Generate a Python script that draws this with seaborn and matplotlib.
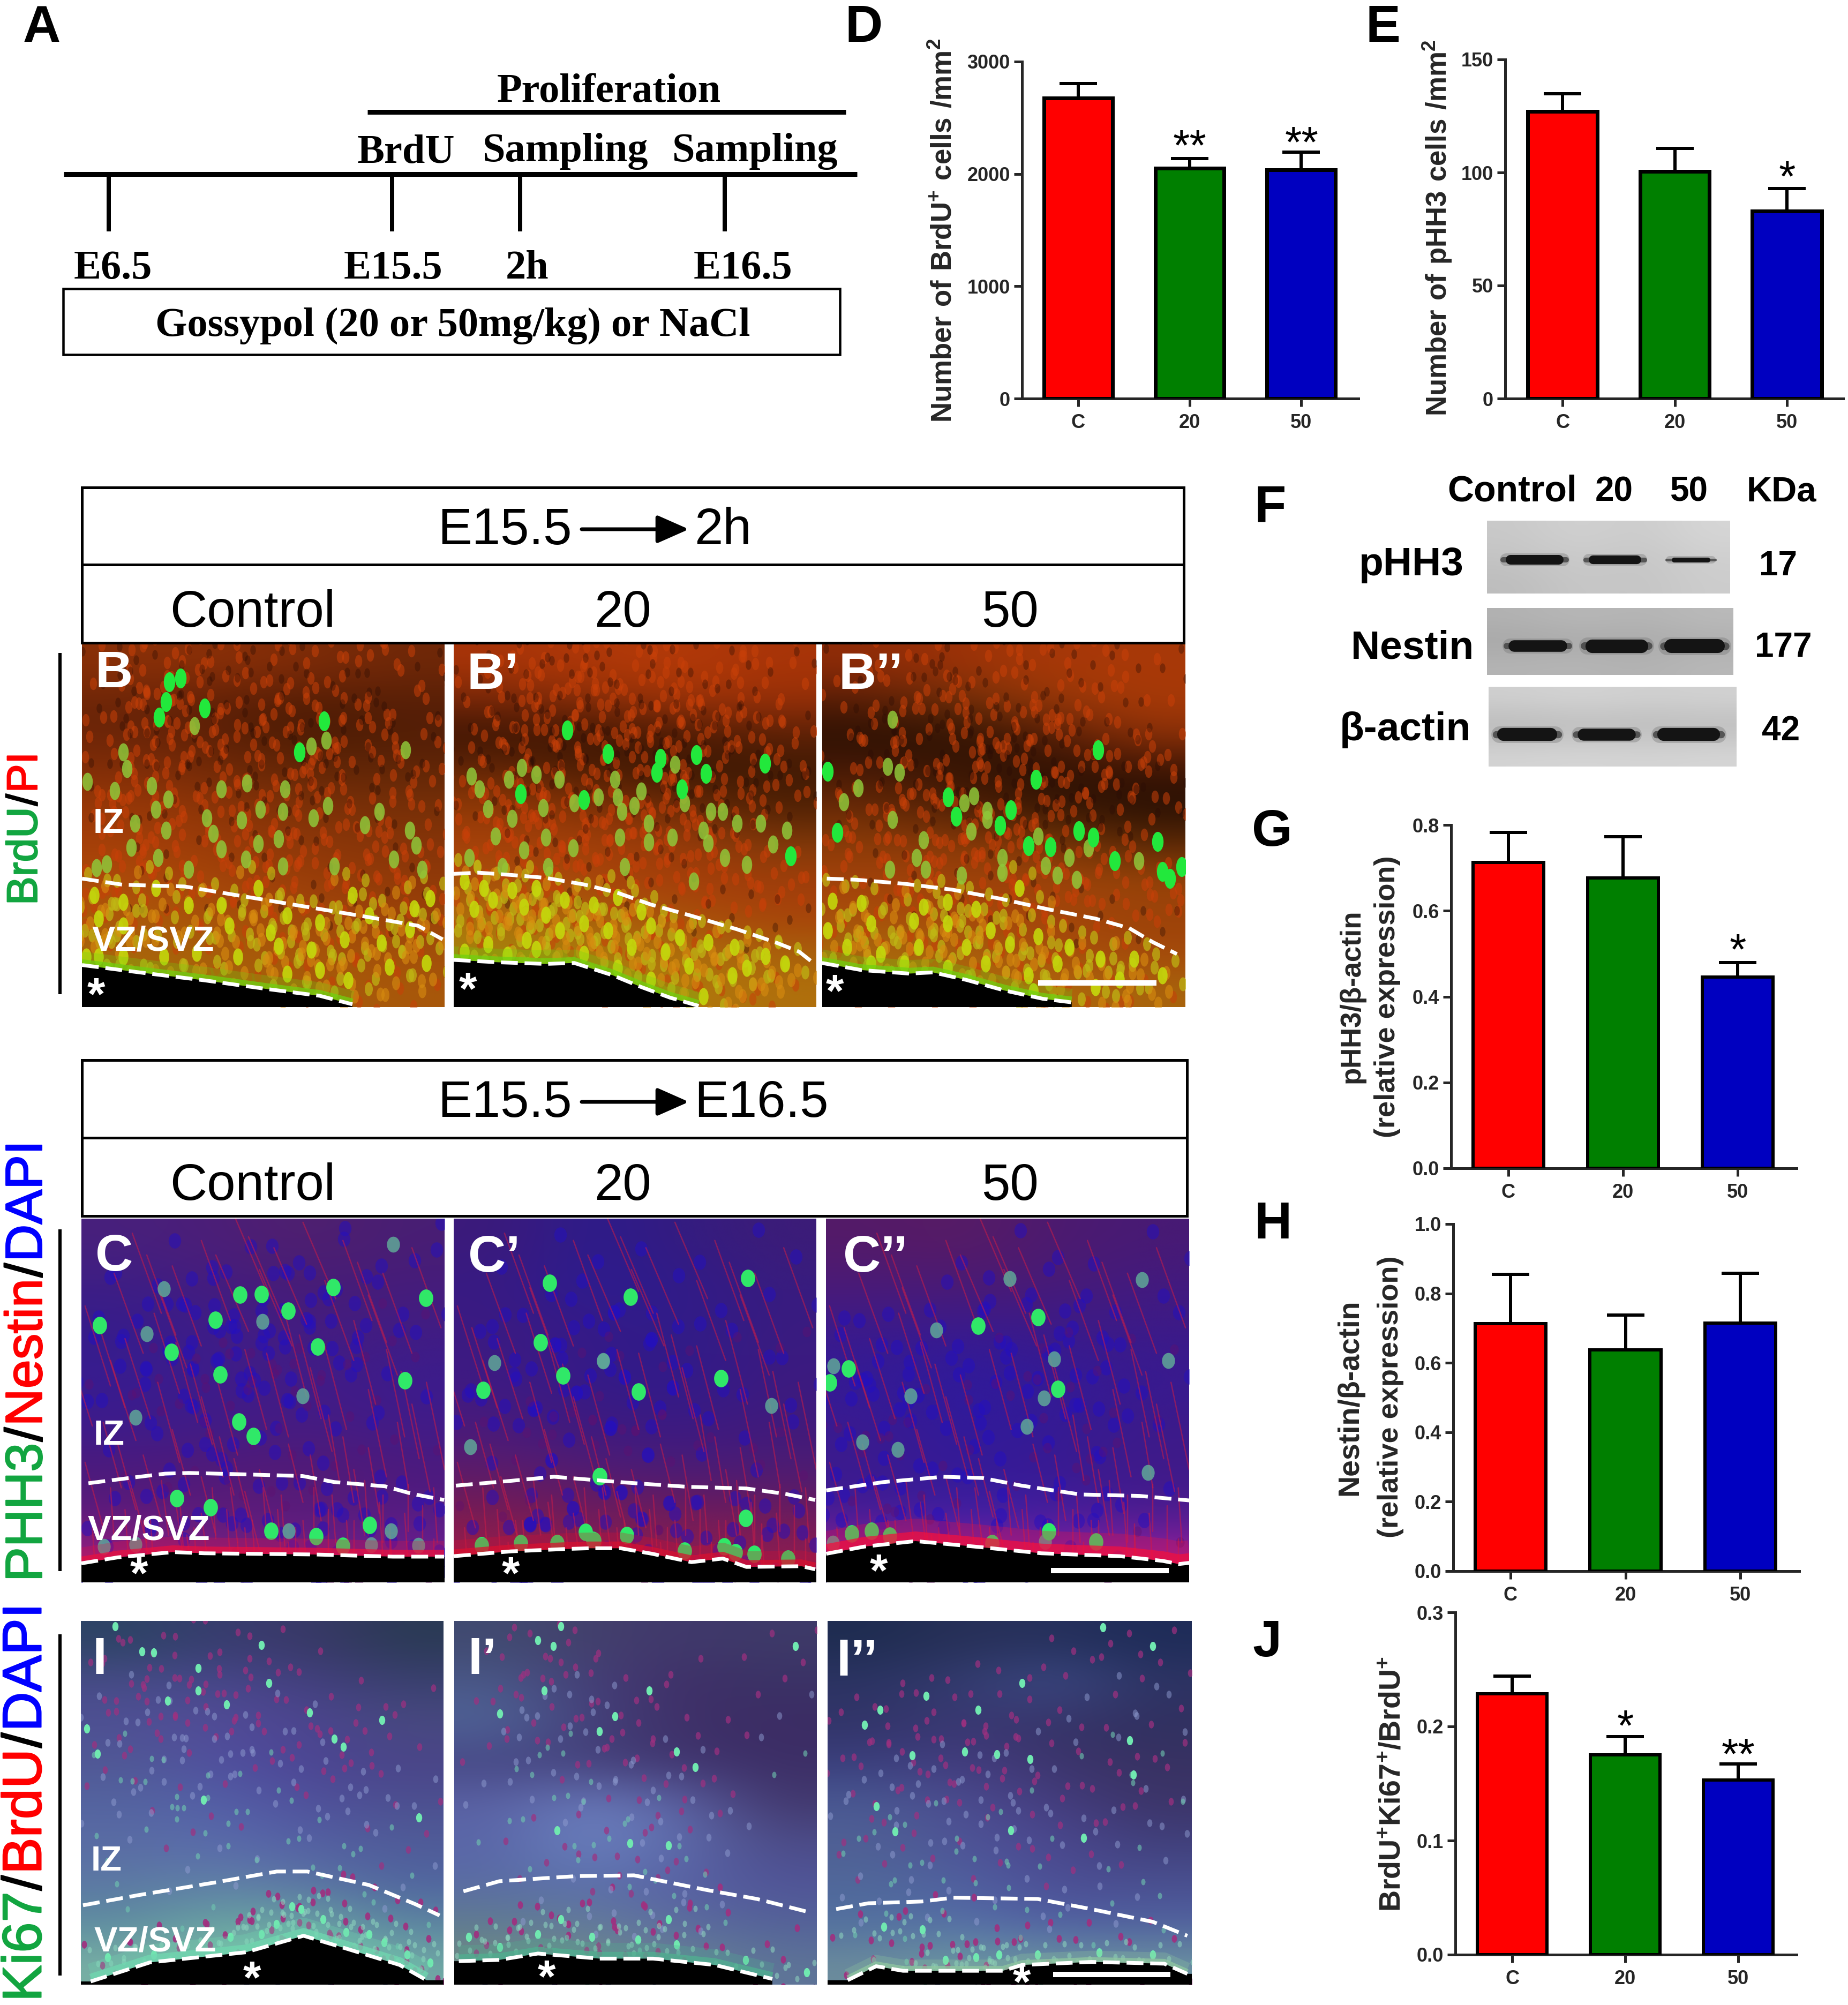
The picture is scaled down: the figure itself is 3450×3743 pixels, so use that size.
import numpy as np
import pandas as pd
import seaborn as sns
import matplotlib
matplotlib.use('Agg')
import matplotlib.pyplot as plt
import matplotlib.patheffects as pe
from matplotlib.colors import to_rgb
from matplotlib.markers import MarkerStyle
from matplotlib.patches import Polygon, Rectangle
from matplotlib.transforms import Affine2D

W, H = 3450, 3743

# bar chart values
groups = ['C', '20', '50']
bar_colors = ['#ff0000', '#007f00', '#0000c0']
brdu_mean = [2675, 2050, 2037]
brdu_top = [2805, 2137, 2192]
phh3_mean = [127, 100.4, 83]
phh3_top = [134.8, 110.6, 93]
phh3_wb_mean = [0.713, 0.677, 0.446]
phh3_wb_top = [0.782, 0.773, 0.479]
nestin_wb_mean = [0.713, 0.637, 0.715]
nestin_wb_top = [0.855, 0.737, 0.858]
ki67_mean = [0.2285, 0.175, 0.153]
ki67_top = [0.244, 0.191, 0.167]

# timeline in panel A
timeline_ticks = [203, 732, 971, 1353]
timeline_labels = ['E6.5', 'E15.5', '2h', 'E16.5']
timeline_label_x = [211, 734, 984, 1387]

# western blot, one row per protein
blot_names = ['pHH3', 'Nestin', 'β-actin']
blot_sizes = ['17', '177', '42']
blot_boxes = [(2776, 972, 3230, 1108), (2776, 1135, 3236, 1260), (2779, 1282, 3242, 1431)]
blot_greys = [[['#c9c9c9', '#d2d2d2', '#cbcbcb', '#d6d6d6'], ['#c4c4c4', '#cccccc', '#c6c6c6', '#d0d0d0'], ['#bdbdbd', '#c8c8c8', '#c4c4c4', '#cdcdcd']],
              [['#b2b2b2', '#b8b8b8', '#b4b4b4', '#bababa'], ['#a8a8a8', '#acacac', '#aaaaaa', '#b0b0b0'], ['#b4b4b4', '#b6b6b6', '#b2b2b2', '#b8b8b8']],
              [['#d0d0d0', '#d4d4d4', '#d0d0d0', '#d2d2d2'], ['#b8b8b8', '#bcbcbc', '#bababa', '#bcbcbc'], ['#d4d4d4', '#d6d6d6', '#d4d4d4', '#d6d6d6']]]
blot_bands = [[(2806, 2924, 20), (2960, 3070, 18), (3111, 3202, 10)],
              [(2813, 2929, 24), (2958, 3078, 28), (3106, 3221, 29)],
              [(2793, 2909, 27), (2942, 3056, 25), (3092, 3213, 27)]]
blot_band_y = [1045, 1206, 1371]

# microscope colour fields, top row to bottom row
field_b = [['#8a3008', '#8c3008', '#802c08', '#702808'],
           ['#642208', '#541c06', '#441804', '#501c06'],
           ['#7a2a08', '#6a2606', '#582206', '#5a2206'],
           ['#983808', '#8a3408', '#7c3008', '#763008'],
           ['#a84008', '#9c3c08', '#8e3808', '#883408'],
           ['#b0500a', '#a8480a', '#a0400a', '#943c08'],
           ['#a8600a', '#a85a0a', '#a8500a', '#a04a0a'],
           ['#a8700a', '#a8640a', '#a85c0a', '#a8580a']]
field_b1 = [['#a83408', '#b03808', '#b43a08', '#a83408'],
            ['#7a2808', '#8a2e08', '#a03408', '#983008'],
            ['#3a1404', '#3c1604', '#4a1a04', '#5a2006'],
            ['#6a2806', '#501e04', '#3a1804', '#401a04'],
            ['#903a06', '#843206', '#702c06', '#502004'],
            ['#a8400a', '#a4400a', '#983c0a', '#803a0a'],
            ['#a8500a', '#a8440a', '#a83c0a', '#a03e0a'],
            ['#b0700c', '#a8600a', '#a8500a', '#a8420a'],
            ['#a8800c', '#b0780c', '#b0700c', '#a8600c'],
            ['#80a00c', '#a8880c', '#b0780c', '#b0700c']]
field_b2 = [['#902c08', '#9c3208', '#a83808', '#a83808'],
            ['#5a1e06', '#703008', '#983808', '#a83a08'],
            ['#2a1004', '#2c1204', '#501c06', '#8c3008'],
            ['#4a1a06', '#3a1604', '#2a1004', '#3a1404'],
            ['#6a2a06', '#502006', '#3a1804', '#281004'],
            ['#8a3c08', '#8a3a08', '#7c3806', '#5a2806'],
            ['#a4400a', '#a0420a', '#a0440a', '#984408'],
            ['#a8500a', '#a8480a', '#a4440a', '#9c420a'],
            ['#a8680c', '#a8600c', '#a8500a', '#a4480a'],
            ['#a8780c', '#b0700c', '#b0680c', '#a8640c']]
field_c = [['#48207c', '#4c1e78', '#50206e', '#481e74'],
           ['#3c1e86', '#441c80', '#461c76', '#461c7c'],
           ['#361c8c', '#3e1c88', '#461c80', '#401c84'],
           ['#381c90', '#3e1c8a', '#421c86', '#3c1c8c'],
           ['#3c1c8c', '#401c88', '#461c82', '#401c8a'],
           ['#4c1a7c', '#501a78', '#541a74', '#4c1a7c'],
           ['#5a1a7a', '#5a1c7a', '#5a1c7a', '#541c84'],
           ['#a01e80', '#7c2088', '#701e88', '#702090']]
field_c1 = [['#3c1a7a', '#2c1c8c', '#341c80', '#3c1c78'],
            ['#381a84', '#2c1c90', '#301c8a', '#381c80'],
            ['#3c1a80', '#361a88', '#301c88', '#3a1c80'],
            ['#3e1a84', '#341a88', '#301a8c', '#3c1a80'],
            ['#481a7c', '#3c1a80', '#3a1a84', '#401a7c'],
            ['#5a1c6c', '#501c74', '#481c78', '#4c1c74'],
            ['#781c50', '#6c1c5c', '#701c58', '#6c1c5c'],
            ['#a01c4c', '#901c50', '#901c50', '#901c50']]
field_c2 = [['#541a68', '#581c64', '#4c1a70', '#481a74'],
            ['#4a1a78', '#4a1a74', '#481a78', '#421a80'],
            ['#3a1a8c', '#381a90', '#3a1a8a', '#3c1a88'],
            ['#341a96', '#2e1a9c', '#341a96', '#381a90'],
            ['#3a1a90', '#301a9c', '#341a96', '#3c1a8a'],
            ['#3c1a8c', '#341a98', '#381a92', '#401a88'],
            ['#401c98', '#3a20a4', '#401ea0', '#481c90'],
            ['#a0208c', '#9020a0', '#9020a0', '#a0209a']]
field_i = [['#2c4464', '#383c70', '#3a3868', '#2a3a54'],
           ['#484c88', '#48488c', '#443f80', '#3a4070'],
           ['#4e5094', '#534c98', '#4c4490', '#484a80'],
           ['#505894', '#5050a0', '#4c4494', '#4a4488'],
           ['#5464a0', '#5460a8', '#50509c', '#4c5090'],
           ['#5a6ca4', '#5a6cac', '#5460a4', '#505c98'],
           ['#5c78a4', '#6080a8', '#5c74a4', '#5064a0'],
           ['#5e8ca0', '#68a4a0', '#68a4a0', '#5c84a0'],
           ['#78b0a4', '#80c0a8', '#80c8b0', '#70a8a4']]
field_i1 = [['#404a70', '#44406c', '#40386c', '#3e3a68'],
            ['#4a5888', '#443e78', '#402f68', '#3a3266'],
            ['#506498', '#44407a', '#3e3068', '#3c2c64'],
            ['#464684', '#44407a', '#40346e', '#3c2e66'],
            ['#5a62a4', '#6a7cbc', '#5c62a4', '#42386e'],
            ['#5a66a8', '#6c84c0', '#5e6cac', '#4c4c88'],
            ['#5a6ca4', '#5c70ac', '#5860a4', '#505498'],
            ['#607c90', '#647c9c', '#5c6ca0', '#546298'],
            ['#708c84', '#708c88', '#688494', '#5e7498']]
field_i2 = [['#1e2c50', '#283058', '#26305c', '#1e2c58'],
            ['#2c3464', '#343c70', '#3e4c88', '#2e3464'],
            ['#323468', '#3a3874', '#363468', '#303060'],
            ['#3a3e7c', '#443c80', '#3c346c', '#383262'],
            ['#4a5a94', '#4c4c90', '#443c80', '#3c3468'],
            ['#506094', '#4e5498', '#4c4890', '#40407c'],
            ['#50689a', '#5060a0', '#4c4c94', '#4a5090'],
            ['#5270a0', '#5670a8', '#5060a4', '#5060a0'],
            ['#6c8c9c', '#6c9ca0', '#6c94a0', '#6c94a0']]

b_upper = [(200, 1192), (300, 1210), (450, 1215), (600, 1245), (750, 1275), (900, 1305), (1020, 1330), (1080, 1370)]
b_lower = [(200, 1445), (350, 1468), (500, 1490), (650, 1515), (780, 1535), (860, 1560)]
b_cells = [(413, 617), (440, 605), (405, 675), (499, 693), (388, 720), (791, 730), (730, 822)]
b_dim = [(475, 745), (796, 787), (760, 805), (990, 815), (300, 822), (213, 908), (370, 920), (280, 935), (310, 870),
         (603, 912), (540, 930), (695, 930), (800, 978), (690, 995), (380, 990), (410, 960), (330, 1030), (405, 1050),
         (505, 1015), (590, 1020), (635, 990), (765, 1015), (890, 1035), (925, 995), (1000, 1050), (1015, 1095),
         (960, 1135), (815, 1155), (690, 1155), (600, 1135), (520, 1060), (540, 1105), (680, 1075), (630, 1090),
         (460, 1165), (385, 1130), (320, 1100), (260, 1150), (235, 1160), (1030, 1165)]
b_vz = [(230, 1240), (300, 1260), (380, 1220), (460, 1270), (540, 1270), (630, 1220), (700, 1300), (780, 1320), (860, 1240),
        (240, 1310), (300, 1330), (560, 1330), (660, 1350), (760, 1400), (840, 1370), (930, 1380), (1000, 1340), (1040, 1440),
        (950, 1450), (850, 1490), (680, 1390), (580, 1420), (480, 1410), (400, 1420), (240, 1420), (210, 1420), (300, 1420),
        (1010, 1280), (1050, 1250), (900, 1300), (780, 1460), (700, 1470)]

b1_upper = [(8, 980), (60, 975), (130, 985), (200, 997), (280, 1025), (350, 1060), (420, 1110), (500, 1155), (600, 1215), (680, 1270), (730, 1310), (755, 1350)]
b1_lower = [(8, 1345), (100, 1355), (200, 1362), (260, 1358), (340, 1410), (400, 1460), (460, 1505), (520, 1540)]
b1_cells = [(245, 370), (330, 470), (440, 490), (515, 475), (658, 512), (432, 550), (535, 555), (148, 640), (485, 620), (280, 665), (712, 905)]
b1_dim = [(470, 515), (345, 580), (150, 530), (180, 560), (228, 580), (45, 565), (123, 580), (62, 620), (400, 630), (350, 655),
          (310, 655), (260, 680), (195, 700), (80, 705), (130, 745), (360, 715), (490, 680), (570, 715), (545, 715), (385, 690),
          (415, 765), (600, 765), (650, 765), (705, 795), (95, 820), (200, 825), (355, 825), (465, 825), (530, 795), (540, 850),
          (675, 855), (155, 880), (258, 870), (415, 845), (575, 910), (620, 940), (40, 910), (110, 950), (205, 950), (365, 950), (510, 1010)]
b1_vz = [(30, 1010), (70, 1040), (130, 1050), (180, 1040), (90, 1090), (155, 1120), (240, 1090), (50, 1130), (200, 1155), (300, 1110),
         (350, 1080), (400, 1140), (280, 1190), (230, 1220), (330, 1220), (160, 1260), (80, 1280), (30, 1310), (120, 1325), (180, 1300),
         (280, 1320), (420, 1200), (480, 1250), (540, 1270), (595, 1290), (660, 1330), (590, 1410), (450, 1310), (380, 1290), (500, 1370),
         (620, 1380), (700, 1360), (530, 1500), (420, 1430), (350, 1380)]

b2_upper = [(788, 1000), (850, 1005), (950, 1022), (1050, 1047), (1150, 1085), (1250, 1130), (1350, 1170), (1420, 1210), (1470, 1270), (1520, 1320)]
b2_lower = [(778, 1358), (860, 1388), (960, 1403), (1010, 1398), (1080, 1430), (1160, 1475), (1240, 1510), (1300, 1525)]
b2_cells = [(1355, 455), (790, 545), (1225, 580), (1042, 655), (1173, 708), (1058, 735), (1150, 775), (810, 805), (1315, 798),
            (1345, 825), (1210, 860), (1255, 865), (1480, 842), (1390, 925), (1490, 970), (1530, 950), (1505, 1000)]
b2_dim = [(925, 325), (915, 525), (940, 550), (853, 615), (1095, 650), (823, 675), (1075, 680), (1123, 712), (925, 750), (1123, 750),
          (1090, 800), (1230, 820), (1335, 870), (1155, 910), (990, 835), (975, 910), (1440, 925), (1245, 945), (1295, 910), (920, 960),
          (995, 960), (1270, 985), (1310, 1005), (1155, 975), (1070, 985)]
b2_vz = [(860, 1105), (800, 1095), (990, 1120), (1040, 1100), (1100, 1130), (1190, 1040), (1230, 1245), (1295, 1290), (970, 1180), (1040, 1190),
         (880, 1190), (790, 1220), (830, 1290), (900, 1320), (980, 1290), (1080, 1290), (1170, 1280), (1130, 1220), (1270, 1360), (1360, 1340),
         (1430, 1340), (1490, 1410), (1210, 1410), (1120, 1360), (1040, 1380), (950, 1360), (880, 1360), (1350, 1460), (1220, 1480), (1400, 1430)]

c_upper = [(225, 1140), (320, 1120), (420, 1100), (480, 1097), (600, 1102), (770, 1110), (850, 1135), (980, 1153), (1050, 1185), (1130, 1210)]
c_lower = [(207, 1475), (300, 1450), (440, 1428), (520, 1433), (800, 1438), (1000, 1447), (1130, 1447)]
c_cells = [(253, 480), (548, 458), (733, 418), (665, 350), (610, 352), (848, 320), (1083, 365), (808, 568), (560, 685), (1030, 710),
           (608, 882), (645, 943), (436, 592), (450, 1203), (535, 1240), (690, 1340), (804, 1362), (940, 1315), (873, 1403)]
c_dim = [(1000, 140), (417, 328), (373, 515), (668, 463), (345, 865), (770, 775), (735, 1340), (945, 1398), (265, 1405), (345, 1395), (1065, 1400), (995, 1340)]

c1_upper_a = [(1160, 1150), (1300, 1130), (1410, 1113), (1500, 1125)]
c1_upper_b = [(100, 1138), (250, 1155), (400, 1162), (500, 1185), (575, 1210)]
c1_lower_a = [(1155, 1445), (1300, 1425), (1440, 1415)]
c1_lower_b = [(0, 1412), (80, 1412), (160, 1435), (260, 1470), (340, 1455), (400, 1490), (540, 1487), (575, 1500)]
c1_cells_a = [(1398, 303), (1375, 552), (1433, 690), (1230, 750), (1490, 1343), (1325, 1390), (1417, 1390), (1225, 1400), (1512, 1380), (1525, 1110)]
c1_dim_a = [(1258, 637), (1535, 628), (1197, 988)]
c1_cells_b = [(403, 283), (105, 360), (335, 700), (126, 757), (27, 1110), (95, 1358), (10, 1378), (243, 1423), (343, 1405), (372, 1430), (420, 1435), (505, 1455), (398, 1285)]
c1_dim_b = [(35, 630), (463, 815)]

c2_upper = [(603, 1170), (750, 1135), (900, 1113), (1000, 1118), (1100, 1150), (1250, 1187), (1400, 1193), (1527, 1212)]
c2_lower = [(603, 1435), (700, 1405), (830, 1382), (1000, 1408), (1150, 1433), (1350, 1445), (1460, 1465), (1500, 1478), (1527, 1473)]
c2_cells = [(1142, 445), (990, 482), (660, 660), (612, 720), (1192, 745), (718, 1340), (668, 1350), (1170, 1342), (1290, 1385), (1025, 1390), (765, 1360)]
c2_dim = [(1070, 285), (1407, 290), (883, 500), (622, 650), (818, 775), (1157, 785), (1183, 620), (1473, 627), (695, 968), (785, 1000), (1113, 903), (1422, 1095), (620, 1390), (1160, 1385)]

# a few of the red Nestin fibres, as fractions of the panel (x0, y0, x1, y1)
fibres = [(0.05, 0.30, 0.12, 0.52), (0.18, 0.10, 0.26, 0.32), (0.30, 0.40, 0.36, 0.62), (0.46, 0.05, 0.55, 0.26), (0.60, 0.32, 0.66, 0.55),
          (0.76, 0.12, 0.84, 0.34), (0.88, 0.42, 0.93, 0.66), (0.10, 0.62, 0.15, 0.80), (0.42, 0.66, 0.46, 0.82), (0.72, 0.60, 0.75, 0.78),
          (0.12, 0.80, 0.13, 0.94), (0.26, 0.78, 0.28, 0.93), (0.40, 0.80, 0.41, 0.94), (0.54, 0.80, 0.55, 0.93), (0.68, 0.80, 0.68, 0.93), (0.82, 0.78, 0.83, 0.93), (0.94, 0.79, 0.94, 0.92)]
fibre_shifts = [(0, 0), (0.07, 0.03), (-0.09, 0.05), (0.15, -0.04), (-0.04, -0.06), (0.03, 0.09)]

i_upper = [(108, 1175), (180, 1135), (280, 1085), (360, 1042), (400, 1042), (480, 1095), (540, 1170), (572, 1215)]
i_lower = [(118, 1475), (195, 1400), (320, 1360), (395, 1295), (450, 1345), (520, 1410), (555, 1470)]
i_cells = [(150, 75), (185, 175), (200, 180), (258, 240), (258, 330), (295, 385), (403, 415), (497, 445), (435, 520), (447, 550), (127, 578), (218, 370),
           (113, 480), (340, 150), (350, 300), (545, 830), (265, 760), (380, 1180), (420, 1230), (360, 1250), (450, 1280), (500, 1320), (530, 1370), (392, 1190),
           (300, 1300), (340, 1290), (480, 1290), (560, 1400), (140, 1380), (200, 1370)]
i1_upper = [(603, 1120), (650, 1080), (750, 1060), (825, 1057), (920, 1115), (985, 1150), (1050, 1200)]
i1_lower = [(597, 1395), (650, 1390), (700, 1365), (780, 1385), (850, 1385), (930, 1410), (1005, 1465)]
i1_cells = [(730, 75), (700, 130), (720, 155), (650, 420), (708, 330), (845, 330), (800, 430), (780, 490), (725, 880), (820, 930), (870, 940), (905, 630),
            (1035, 155), (880, 570), (770, 1300), (700, 1290), (830, 1310), (880, 1330), (650, 1340), (970, 1390), (1050, 1440), (610, 1300), (730, 1230), (870, 1230)]
i2_upper = [(1088, 1190), (1130, 1167), (1200, 1160), (1240, 1145), (1350, 1150), (1420, 1190), (1500, 1240), (1545, 1295)]
i2_lower = [(1103, 1470), (1140, 1415), (1175, 1433), (1305, 1433), (1330, 1410), (1420, 1398), (1515, 1405), (1545, 1445)]
i2_cells = [(1187, 585), (1145, 405), (1273, 405), (1297, 580), (1315, 880), (1475, 660), (1330, 300), (1205, 350), (1125, 465), (1255, 570), (1470, 525), (1410, 910),
            (1140, 785), (1165, 885), (1340, 600), (1435, 80), (1500, 155), (1150, 1260), (1200, 1270), (1300, 1370), (1350, 1370), (1430, 1360), (1500, 1370), (1270, 1380), (1230, 1390)]

# speckle layers: colour, size in px, alpha, shifts in px of the cell lists
vz_speckle = [('#c0b814', 20, 0.7, [(24, -28), (-26, 22), (38, 16), (-12, -40)]),
              ('#d88c10', 20, 0.6, [(12, 30), (-34, -30), (60, 26), (-8, 52)])]
red_speckle = [('#c84008', 18, 0.55, [(30, -120), (-40, -200), (60, -300), (-70, -60), (90, -420), (20, 40), (-24, 80), (110, -170)]),
               ('#2a0c04', 14, 0.35, [(-60, -260), (44, -360), (80, -90)])]
blue_speckle = [('#2410c0', 26, 0.5, [(40, 30), (-50, 60), (90, -40), (-90, -30), (20, -90), (130, 50), (-130, 90)]),
                ('#601070', 18, 0.4, [(-20, 110), (60, 130), (110, 100)])]
magenta_speckle = [('#a03080', 12, 0.7, [(14, 30), (-20, 60), (40, -30), (-44, -24), (70, 50), (-70, 90), (96, -60), (-96, 20)]),
                   ('#8f9cd0', 12, 0.5, [(30, 90), (-30, 130), (60, 160), (-64, 170), (100, 110)]),
                   ('#70c8b0', 10, 0.6, [(18, 200), (-40, 240), (56, 290)])]
i_vz_speckle = [('#90d8c0', 10, 0.55, [(14, -18), (-18, 12), (30, 8), (-34, -14), (50, -20), (-56, 6), (74, 14), (-80, 16)])]

# crop origin and scale for each list above
crop_b = (0, 880, 1.307, 1.568)
crop_b12 = (840, 1200, 1.12, 2.272)
crop_c = (0, 2260, 1.363, 2.24)
crop_c2 = (1100, 2260, 1.363, 2.24)
crop_i = (0, 3000, 0.697, 2.11)

sns.set_theme(style='ticks')
plt.rcParams['font.family'] = ['Liberation Sans', 'DejaVu Sans']
plt.rcParams['mathtext.fontset'] = 'custom'
plt.rcParams['mathtext.bf'] = 'Liberation Sans:bold'
plt.rcParams['mathtext.rm'] = 'Liberation Sans'
plt.rcParams['mathtext.default'] = 'regular'


def pt(pixels):
    return pixels * 0.72


def unzoom(points, box):
    x0, y0, fx, fy = box
    return [(x0 + p[0] / fx, y0 + p[1] / fy) for p in points]


fig = plt.figure(figsize=(W / 100, H / 100), dpi=100, facecolor='white')
page = fig.add_axes([0, 0, 1, 1])
page.set_axis_off()


def label(x, y, s, size, weight='bold', color='black', family=None, ha='center', **kw):
    if family:
        kw['family'] = family
    return page.text(x, y, s, fontsize=size, fontweight=weight, color=color, ha=ha, va='baseline', **kw)


def field(box, colours, upper, lower, cells=(), dim=(), vz=(), glow=None, glow_w=20, cell_c='#22e83c', dim_c='#8fc83a',
          vz_c='#c4d80c', size=20, fibre=False, shape=(0.75, 1.3), speckle=(), speck_vz=()):
    x0, y0, x1, y1 = box
    grid = np.array([[to_rgb(c) for c in row] for row in colours])
    page.imshow(grid, extent=(x0, x1, y1, y0), origin='upper', aspect='auto', interpolation='bicubic', zorder=1)
    clip = Rectangle((x0, y0), x1 - x0, y1 - y0, transform=page.transData)
    marker = MarkerStyle('o', transform=Affine2D().scale(*shape))

    def dots(pts, col, s, a, z):
        if len(pts):
            arr = np.array(pts)
            sc = page.scatter(arr[:, 0], arr[:, 1], s=pt(s) ** 2, c=col, alpha=a, linewidths=0, zorder=z, marker=marker)
            sc.set_clip_path(clip)

    everyone = list(cells) + list(dim) + list(vz)
    for col, s, a, shifts in speckle:
        for dx, dy in shifts:
            dots([(p[0] + dx, p[1] + dy) for p in everyone], col, s, a, 1.2)
    if fibre:
        for sx, sy in fibre_shifts:
            for f in fibres:
                line, = page.plot([x0 + (f[0] + sx) * (x1 - x0), x0 + (f[2] + sx) * (x1 - x0)],
                                  [y0 + (f[1] + sy) * (y1 - y0), y0 + (f[3] + sy) * (y1 - y0)],
                                  color='#c81c48', lw=pt(2.5), alpha=0.55, zorder=1.5)
                line.set_clip_path(clip)
    for col, s, a, shifts in speck_vz:
        for dx, dy in shifts:
            dots([(p[0] + dx, p[1] + dy) for p in vz], col, s, a, 1.8)
    dots(vz, vz_c, size * 0.95, 0.9, 2)
    dots(dim, dim_c, size, 0.85, 2)
    dots(cells, cell_c, size * 1.1, 1.0, 2.1)
    lo = np.array(lower)
    if glow:
        for width, alpha, lift in [(glow_w * 2.4, 0.28, 0.9), (glow_w, 0.75, 0.4)]:
            line, = page.plot(lo[:, 0], lo[:, 1] - glow_w * lift, color=glow, lw=pt(width), alpha=alpha, zorder=2.2, solid_capstyle='butt')
            line.set_clip_path(clip)
    page.add_patch(Polygon([(x0, lo[0, 1])] + [tuple(p) for p in lo] + [(x1, lo[-1, 1]) if lo[-1, 0] > x1 - 60 else (lo[-1, 0], y1), (x1 if lo[-1, 0] > x1 - 60 else lo[-1, 0], y1), (x0, y1)],
                           closed=True, fc='black', ec='none', zorder=3))
    for curve in (upper, lower):
        c = np.array(curve)
        line, = page.plot(c[:, 0], c[:, 1], color='white', lw=pt(7), ls=(0, (4.5, 1.8)), zorder=4, dash_capstyle='butt')
        line.set_clip_path(clip)


def bar_panel(left, right, top, bottom, first, step, means, tops, yticks, fmt, edge=7):
    ax = fig.add_axes([left / W, 1 - bottom / H, (right - left) / W, (bottom - top) / H])
    ax.patch.set_visible(False)
    table = pd.DataFrame({'group': groups, 'value': means})
    sns.barplot(data=table, x='group', y='value', hue='group', palette=bar_colors, order=groups, hue_order=groups,
                saturation=1, width=0.62, edgecolor='black', linewidth=pt(edge), legend=False, ax=ax, zorder=3)
    upper = np.array(tops) - np.array(means)
    ax.errorbar(range(3), means, yerr=[np.zeros(3), upper], fmt='none', ecolor='black', elinewidth=pt(6),
                capsize=pt(35), capthick=pt(6), zorder=2)
    ax.set_xlim((left - first) / step, (right - first) / step)
    ax.set_ylim(yticks[0], yticks[-1])
    ax.set_yticks(yticks, [fmt % v for v in yticks])
    ax.set_xticks(range(3), groups)
    ax.set_xlabel('')
    ax.set_ylabel('')
    sns.despine(ax=ax)
    for side in ('left', 'bottom'):
        ax.spines[side].set_linewidth(pt(5))
    ax.tick_params(axis='y', width=pt(5), length=pt(15), labelsize=26, pad=pt(7))
    ax.tick_params(axis='x', width=pt(5), length=pt(15), labelsize=26, pad=pt(13))
    for t in ax.get_xticklabels() + ax.get_yticklabels():
        t.set_fontweight('bold')
    return ax


# panel A
serif = 'Liberation Serif'
page.plot([686, 1579], [209, 209], color='black', lw=pt(9), solid_capstyle='butt')
page.plot([119, 1600], [325, 325], color='black', lw=pt(9), solid_capstyle='butt')
for x in timeline_ticks:
    page.plot([x, x], [325, 432], color='black', lw=pt(8), solid_capstyle='butt')
for x, s in zip(timeline_label_x, timeline_labels):
    label(x, 520, s, 55, family=serif)
label(1137, 190, 'Proliferation', 55, family=serif)
label(758, 304, 'BrdU', 55, family=serif)
label(1056, 301, 'Sampling', 55, family=serif)
label(1410, 301, 'Sampling', 55, family=serif)
page.add_patch(Rectangle((118, 539), 1450, 123, fc='none', ec='black', lw=pt(4.5)))
label(845, 627, 'Gossypol (20 or 50mg/kg) or NaCl', 55, family=serif)

# panel letters
for s, x, y in [('A', 78, 78), ('D', 1613, 78), ('E', 2582, 78), ('F', 2371, 974), ('G', 2375, 1579), ('H', 2377, 2312), ('J', 2366, 3092)]:
    label(x, y, s, 70)

# bar charts
bar_panel(1908, 2536, 115, 744, 2013, 208, brdu_mean, brdu_top, [0, 1000, 2000, 3000], '%d')
bar_panel(2810, 3441, 111, 744, 2917, 209.5, phh3_mean, phh3_top, [0, 50, 100, 150], '%d')
bar_panel(2709, 3354, 1540, 2181, 2816, 214, phh3_wb_mean, phh3_wb_top, [0, 0.2, 0.4, 0.6, 0.8], '%.1f', edge=6)
bar_panel(2713, 3359, 2285, 2933, 2820, 214.5, nestin_wb_mean, nestin_wb_top, [0, 0.2, 0.4, 0.6, 0.8, 1.0], '%.1f', edge=6)
bar_panel(2717, 3354, 3010, 3649, 2823, 211, ki67_mean, ki67_top, [0, 0.1, 0.2, 0.3], '%.1f', edge=6)

page.text(1762, 430, r'$\mathbf{Number\ of\ BrdU^{+}\ cells\ /mm^{2}}$', fontsize=38, rotation=90, ha='center', va='center')
page.text(2683, 426, r'$\mathbf{Number\ of\ pHH3\ cells\ /mm^{2}}$', fontsize=38, rotation=90, ha='center', va='center')
page.text(2524, 1860, 'pHH3/β-actin', fontsize=38, fontweight='bold', rotation=90, ha='center', va='center')
page.text(2590, 1861, '(relative expression)', fontsize=39, fontweight='bold', rotation=90, ha='center', va='center')
page.text(2520, 2609, 'Nestin/β-actin', fontsize=40, fontweight='bold', rotation=90, ha='center', va='center')
page.text(2596, 2608, '(relative expression)', fontsize=39, fontweight='bold', rotation=90, ha='center', va='center')
page.text(2600, 3331, r'$\mathbf{BrdU^{+}Ki67^{+}/BrdU^{+}}$', fontsize=40, rotation=90, ha='center', va='center')

# significance stars, baseline sits below the glyph
for x, y, s in [(2221, 256, '**'), (2430, 250, '**'), (3336, 314, '*'), (3244, 1757, '*'), (3034, 3206, '*'), (3245, 3259, '**')]:
    label(x, y + 42, s, 58, weight='normal')

# panel F
label(2823, 936, 'Control', 49)
label(3013, 936, '20', 46)
label(3153, 936, '50', 46)
label(3326, 936, 'KDa', 47)
for box, greys, bands, yb, name, size, nx, ny, sx, sy in zip(blot_boxes, blot_greys, blot_bands, blot_band_y, blot_names, blot_sizes,
                                                             [2634, 2637, 2624], [1074, 1230, 1382], [3320, 3329, 3325], [1074, 1226, 1382]):
    grid = np.array([[to_rgb(c) for c in row] for row in greys])
    page.imshow(grid, extent=(box[0], box[2], box[3], box[1]), origin='upper', aspect='auto', interpolation='bicubic', zorder=1)
    for xa, xb, thick in bands:
        page.plot([xa + 6, xb - 6], [yb, yb], color='#707070', lw=pt(thick + 4), alpha=0.35, solid_capstyle='round', zorder=2)
        page.plot([xa, xb], [yb, yb], color='#404040', lw=pt(thick * 0.5), alpha=0.8, solid_capstyle='round', zorder=2)
        page.plot([xa + 14, xb - 14], [yb, yb], color='#141414', lw=pt(thick * 0.9), solid_capstyle='round', zorder=2.1)
    label(nx, ny, name, 54)
    label(sx, sy, size, 46)

# header boxes above the image rows
for top, mid, bottom, right, title, end in [(910, 1054, 1200, 2210, 'E15.5', '2h'), (1979, 2124, 2270, 2216, 'E15.5', 'E16.5')]:
    page.add_patch(Rectangle((153, top), right - 153, bottom - top, fc='white', ec='black', lw=pt(5), zorder=5))
    page.plot([153, right], [mid, mid], color='black', lw=pt(5), zorder=6, solid_capstyle='butt')
    label(942, top + 106, title, 69, weight='normal', zorder=6)
    label(1296, top + 106, end, 69, weight='normal', ha='left', zorder=6)
    page.annotate('', xy=(1286, top + 78), xytext=(1086, top + 78), zorder=6,
                  arrowprops=dict(arrowstyle='-|>,head_length=0.95,head_width=0.42', color='black', lw=pt(7), mutation_scale=38, shrinkA=0, shrinkB=0))
    for x, s in [(472, 'Control'), (1163, '20'), (1886, '50')]:
        label(x, mid + 116, s, 69, weight='normal', zorder=6)

# image rows
box_b, box_b1, box_b2 = (153, 1203, 830, 1880), (847, 1203, 1524, 1880), (1535, 1203, 2213, 1880)
b_style = dict(glow='#70d010', glow_w=12, size=26, speckle=red_speckle, speck_vz=vz_speckle)
field(box_b, field_b, unzoom(b_upper, crop_b), unzoom(b_lower, crop_b), unzoom(b_cells, crop_b), unzoom(b_dim, crop_b), unzoom(b_vz, crop_b), **b_style)
field(box_b1, field_b1, unzoom(b1_upper, crop_b12), unzoom(b1_lower, crop_b12), unzoom(b1_cells, crop_b12), unzoom(b1_dim, crop_b12), unzoom(b1_vz, crop_b12), **b_style)
field(box_b2, field_b2, unzoom(b2_upper, crop_b12), unzoom(b2_lower, crop_b12), unzoom(b2_cells, crop_b12), unzoom(b2_dim, crop_b12), unzoom(b2_vz, crop_b12), **b_style)

box_c, box_c1, box_c2 = (152, 2275, 830, 2954), (847, 2275, 1524, 2954), (1542, 2275, 2220, 2954)
c_style = dict(cell_c='#30e868', dim_c='#60a898', fibre=True, size=27, shape=(0.9, 1.1), speckle=blue_speckle)
field(box_c, field_c, unzoom(c_upper, crop_c), unzoom(c_lower, crop_c), unzoom(c_cells, crop_c), unzoom(c_dim, crop_c), glow='#e81040', glow_w=14, **c_style)
field(box_c1, field_c1, unzoom(c1_upper_a, crop_c) + unzoom(c1_upper_b, crop_c2), unzoom(c1_lower_a, crop_c) + unzoom(c1_lower_b, crop_c2),
      unzoom(c1_cells_a, crop_c) + unzoom(c1_cells_b, crop_c2), unzoom(c1_dim_a, crop_c) + unzoom(c1_dim_b, crop_c2), glow='#d81030', glow_w=14, **c_style)
field(box_c2, field_c2, unzoom(c2_upper, crop_c2), unzoom(c2_lower, crop_c2), unzoom(c2_cells, crop_c2), unzoom(c2_dim, crop_c2), glow='#f01040', glow_w=20, **c_style)

box_i, box_i1, box_i2 = (151, 3026, 828, 3705), (848, 3026, 1525, 3705), (1545, 3026, 2225, 3705)
i_style = dict(cell_c='#70e8b0', size=13, shape=(0.8, 1.2), speckle=magenta_speckle, speck_vz=i_vz_speckle)
field(box_i, field_i, unzoom(i_upper, crop_i), unzoom(i_lower, crop_i), unzoom(i_cells, crop_i), vz=unzoom(i_cells[17:], crop_i), glow='#70d8b0', glow_w=16, **i_style)
field(box_i1, field_i1, unzoom(i1_upper, crop_i), unzoom(i1_lower, crop_i), unzoom(i1_cells, crop_i), vz=unzoom(i1_cells[14:], crop_i), glow='#50b090', glow_w=14, **i_style)
field(box_i2, field_i2, unzoom(i2_upper, crop_i), unzoom(i2_lower, crop_i), unzoom(i2_cells, crop_i), vz=unzoom(i2_cells[17:], crop_i), glow='#90c8a0', glow_w=10, **i_style)

# white labels on the images
for s, x, y in [('B', 213, 1283), ('B’', 920, 1286), ('B’’', 1626, 1286), ('C', 213, 2372), ('C’', 923, 2374), ('C’’', 1634, 2374),
                ('I', 186, 3125), ('I’', 900, 3125), ('I’’', 1600, 3128)]:
    label(x, y, s, 70, color='white', zorder=7)
for s, x, y in [('IZ', 203, 1555), ('VZ/SVZ', 286, 1775), ('IZ', 204, 2697), ('VZ/SVZ', 278, 2875), ('IZ', 199, 3492), ('VZ/SVZ', 290, 3642)]:
    label(x, y, s, 47, color='white', zorder=7)
for x, y in [(180, 1846), (874, 1836), (1559, 1840), (260, 2927), (954, 2927), (1641, 2922), (471, 3682), (1021, 3680), (1908, 3690)]:
    label(x, y + 38, '*', 62, color='white', zorder=7)
for xa, xb, y in [(1938, 2159, 1835), (1962, 2182, 2932), (1966, 2185, 3686)]:
    page.plot([xa, xb], [y, y], color='white', lw=pt(10), solid_capstyle='butt', zorder=7)

# stain names up the left side, black rule next to them
for ya, yb in [(1219, 1856), (2295, 2933), (3051, 3688)]:
    page.plot([112, 112], [ya, yb], color='black', lw=pt(6), solid_capstyle='butt')

green, red, blue = '#12a540', '#ff0000', '#0000ff'
page.set_xlim(0, W)
page.set_ylim(H, 0)
stain_rows = [(48, 1690, 58, [('BrdU', green), ('/', 'black'), ('PI', red)]),
              (53, 2953, 70, [('PHH3', green), ('/', 'black'), ('Nestin', red), ('/', 'black'), ('DAPI', blue)]),
              (50, 3737, 74, [('Ki67', green), ('/', 'black'), ('BrdU', red), ('/', 'black'), ('DAPI', blue)])]
renderer = fig.canvas.get_renderer()
for x, y, size, parts in stain_rows:
    for s, col in parts:
        t = page.text(x, y, s, color=col, fontsize=size, rotation=90, ha='center', va='bottom',
                      path_effects=[pe.withStroke(linewidth=1.5, foreground=col)])
        y -= t.get_window_extent(renderer).height + 2

fig.savefig('out.png', dpi=100, facecolor='white')
